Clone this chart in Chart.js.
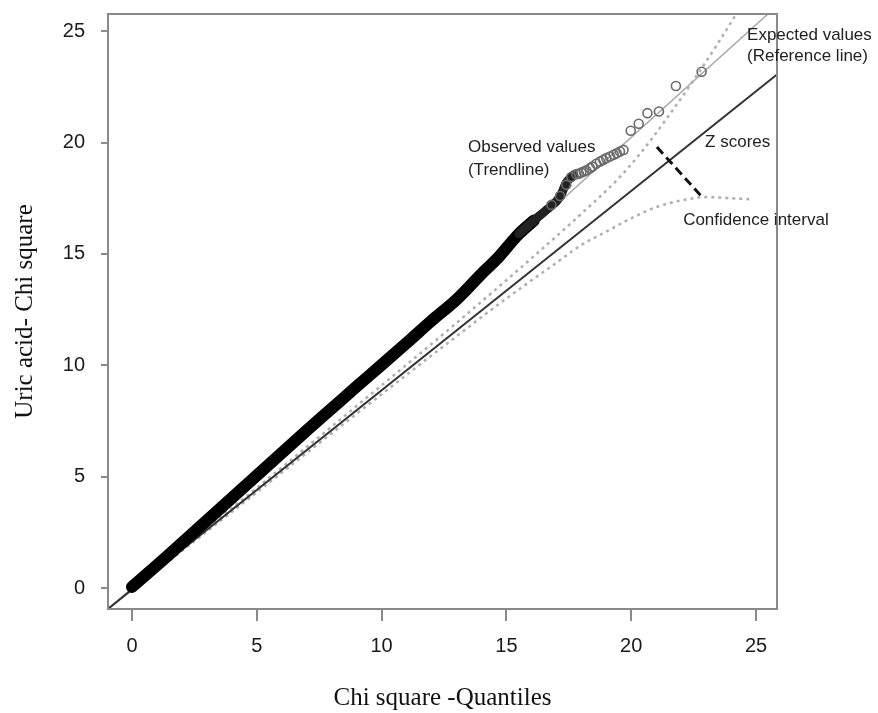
<!DOCTYPE html>
<html>
<meta name="viewport" content="width=device-width, initial-scale=1.0" />
<style>
	html, body {
		width: 100%;
		height: 100%;
		margin: 0;
		padding: 0;
		overflow: hidden;
		background: #fff;
	}
	#wrap {
		position: absolute;
		left: 0;
		top: 0;
		width: 878px;
		height: 713px;
	}
</style>
<script src="https://cdn.jsdelivr.net/npm/chart.js"></script>
<script>

	// Tick labels on both axes
	var xTicks = [0, 5, 10, 15, 20, 25];
	var yTicks = [0, 5, 10, 15, 20, 25];

	// Observed values, dense part (the thick black band)
	var bandX = [0, 1, 2, 3, 4, 5, 6, 7, 8, 9, 10, 11, 12, 13, 14, 14.6, 15.5, 16.1];
	var bandY = [0.05, 1.02, 2.02, 3.03, 4.04, 5.05, 6.06, 7.07, 8.06, 9.05, 10.02, 11.0, 12.0, 12.95, 14.1, 14.75, 15.9, 16.5];

	// Observed values, thinner part where the circles start to separate
	var tailX = [15.5, 16.1, 16.6, 17.15, 17.4, 17.7];
	var tailY = [15.9, 16.5, 16.97, 17.57, 18.2, 18.55];

	// Observed values, single circles at the top
	var circX = [16.8, 17.15, 17.4, 17.6, 17.8, 17.9, 18.0, 18.1, 18.2, 18.35, 18.45, 18.6, 18.75, 18.88, 19.0, 19.15, 19.3, 19.42, 19.55, 19.69, 19.98, 20.3, 20.65, 21.11, 21.79, 22.82];
	var circY = [17.2, 17.6, 18.1, 18.45, 18.58, 18.6, 18.65, 18.7, 18.75, 18.85, 18.92, 19.05, 19.15, 19.22, 19.3, 19.37, 19.45, 19.52, 19.6, 19.67, 20.53, 20.84, 21.32, 21.39, 22.54, 23.18];

	// Expected values (reference line)
	var refX = [-1, 26];
	var refY = [-1, 26.3];

	// Z scores line
	var zX = [-1, 26];
	var zY = [-0.97, 23.2];

	// Confidence interval, upper and lower
	var upX = [0, 5, 10, 13, 16, 18, 19.5, 20.5, 21.5, 22.5, 23.5, 24.5];
	var upY = [0, 4.5, 9.1, 11.9, 14.8, 16.8, 18.4, 19.7, 21.2, 22.8, 24.5, 26.3];
	var loX = [0, 5, 10, 13, 15, 17, 18, 19, 20, 21, 22, 23, 24, 24.8];
	var loY = [-0.1, 4.3, 8.7, 11.3, 13.0, 14.6, 15.4, 16.0, 16.6, 17.1, 17.4, 17.55, 17.5, 17.45];

	// Pointer between Z scores and confidence interval
	var ptrX = [21.03, 22.8];
	var ptrY = [19.8, 17.6];

	function pts(xs, ys) {
		return xs.map(function (x, i) { return { x: x, y: ys[i] }; });
	}

	var grey = '#8a8a8a';

	// Box around the plot, like R's bty="o"
	var boxPlugin = {
		id: 'box',
		afterDatasetsDraw: function (chart) {
			var a = chart.chartArea, ctx = chart.ctx;
			ctx.save();
			ctx.strokeStyle = grey;
			ctx.lineWidth = 2;
			ctx.strokeRect(a.left, a.top, a.right - a.left, a.bottom - a.top);
			ctx.restore();
		}
	};

	// Text notes, placed in data units
	var notes = [
		{ t: 'Expected values', x: 24.64, y: 24.83 },
		{ t: '(Reference line)', x: 24.64, y: 23.89 },
		{ t: 'Observed values', x: 13.46, y: 19.8 },
		{ t: '(Trendline)', x: 13.46, y: 18.77 },
		{ t: 'Z scores', x: 22.96, y: 20.03 },
		{ t: 'Confidence interval', x: 22.08, y: 16.52 }
	];
	var notePlugin = {
		id: 'notes',
		afterDraw: function (chart) {
			var ctx = chart.ctx, sx = chart.scales.x, sy = chart.scales.y;
			ctx.save();
			ctx.fillStyle = '#222';
			ctx.font = '17px "Liberation Sans", Arial, sans-serif';
			ctx.textBaseline = 'middle';
			ctx.textAlign = 'left';
			notes.forEach(function (n) {
				ctx.fillText(n.t, sx.getPixelForValue(n.x), sy.getPixelForValue(n.y));
			});
			ctx.restore();
		}
	};

	window.onload = function () {

		var line = function (data, color, width, dash) {
			return {
				data: data,
				showLine: true,
				borderColor: color,
				borderWidth: width,
				borderDash: dash || [],
				pointRadius: 0,
				fill: false,
				tension: 0.4,
				cubicInterpolationMode: 'monotone',
				clip: 0
			};
		};

		var band = line(pts(bandX, bandY), '#000', 12);
		band.borderCapStyle = 'round';
		var tail = line(pts(tailX, tailY), '#222', 9);
		tail.borderCapStyle = 'round';

		var data = {
			datasets: [
				{
					data: pts(circX, circY),
					showLine: false,
					pointRadius: 4.5,
					pointBorderWidth: 1.6,
					pointBorderColor: '#6a6a6a',
					pointBackgroundColor: 'rgba(0,0,0,0)'
				},
				tail,
				band,
				line(pts(ptrX, ptrY), '#111', 3, [9, 5]),
				line(pts(zX, zY), '#333', 2),
				line(pts(refX, refY), '#a9a9a9', 1.5),
				line(pts(upX, upY), '#b0b0b0', 2.5, [3, 4]),
				line(pts(loX, loY), '#b0b0b0', 2.5, [3, 4])
			]
		};

		var config = {
			type: 'scatter',
			data: data,
			plugins: [boxPlugin, notePlugin],
			options: {
				responsive: false,
				animation: false,
				events: [],
				plugins: {
					legend: { display: false },
					tooltip: { enabled: false }
				},
				layout: {
					padding: { left: 0, right: 101, top: 14, bottom: 0 }
				},
				scales: {
					x: {
						type: 'linear',
						min: -0.96,
						max: 25.84,
						afterBuildTicks: function (s) { s.ticks = xTicks.map(function (v) { return { value: v }; }); },
						afterFit: function (s) { s.height = 104; s.paddingLeft = 0; s.paddingRight = 0; },
						grid: { drawOnChartArea: false, tickLength: 12, color: grey, lineWidth: 2 },
						border: { display: true, color: grey, width: 2 },
						ticks: {
							padding: 13,
							color: '#1a1a1a',
							font: { family: '"Liberation Sans", Arial, sans-serif', size: 20 }
						},
						title: {
							display: true,
							text: 'Chi square -Quantiles',
							color: '#111',
							padding: { top: 0, bottom: 0 },
							font: { family: '"Liberation Serif", "Times New Roman", serif', size: 25 }
						}
					},
					y: {
						type: 'linear',
						min: -0.94,
						max: 25.77,
						afterBuildTicks: function (s) { s.ticks = yTicks.map(function (v) { return { value: v }; }); },
						afterFit: function (s) { s.width = 108; s.paddingTop = 0; s.paddingBottom = 0; },
						grid: { drawOnChartArea: false, tickLength: 7, color: grey, lineWidth: 2 },
						border: { display: true, color: grey, width: 2 },
						ticks: {
							padding: 16,
							color: '#1a1a1a',
							font: { family: '"Liberation Sans", Arial, sans-serif', size: 20 }
						},
						title: {
							display: true,
							text: 'Uric acid- Chi square',
							color: '#111',
							padding: { top: 10, bottom: 0 },
							font: { family: '"Liberation Serif", "Times New Roman", serif', size: 25 }
						}
					}
				}
			}
		};

		new Chart(document.getElementById('myChart'), config);
	};

</script>
<body>
	<div id="wrap">
		<canvas id="myChart" width="878" height="713"></canvas>
	</div>
</body>
</html>
